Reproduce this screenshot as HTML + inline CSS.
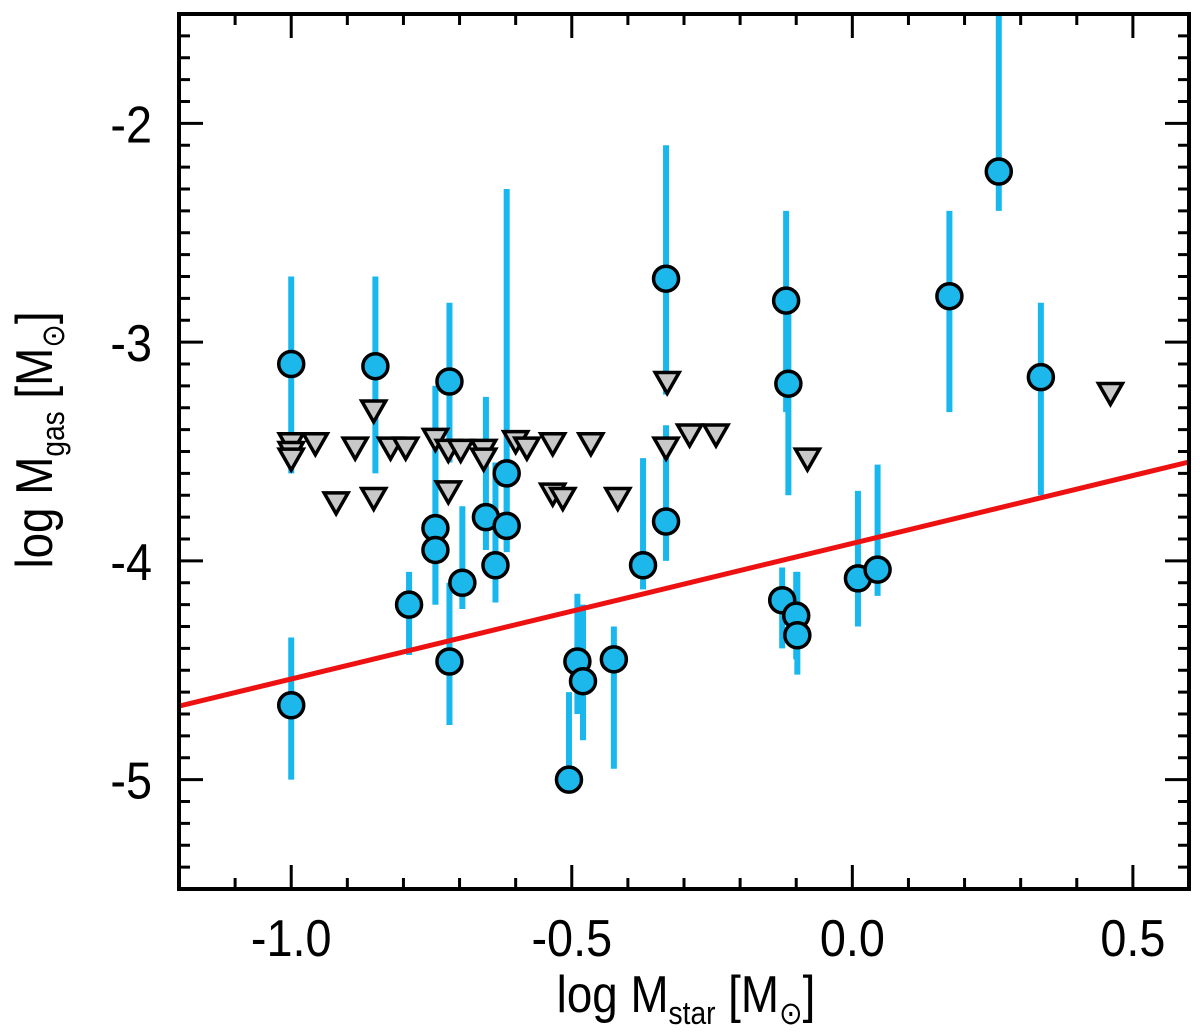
<!DOCTYPE html>
<html><head><meta charset="utf-8"><style>
html,body{margin:0;padding:0;background:#fff;}
svg{display:block;font-family:"Liberation Sans",Arial,sans-serif;}
</style></head><body>
<svg id="chart" width="1200" height="1036" viewBox="0 0 1200 1036" xmlns="http://www.w3.org/2000/svg">
<g id="bars"></g>
<g id="fit"></g>
<g id="tris"></g>
<g id="dots"></g>
<g id="axes"></g>
<g transform="translate(686,1012) scale(0.88,1)"><text x="0" y="0" font-size="52" text-anchor="middle">log M<tspan font-size="32" dy="12">star</tspan><tspan dy="-12"> [M</tspan><tspan font-size="32" dy="12">⊙</tspan><tspan dy="-12">]</tspan></text></g>
<g transform="translate(52,440) rotate(-90) scale(0.88,1)"><text x="0" y="0" font-size="52" text-anchor="middle">log M<tspan font-size="32" dy="12">gas</tspan><tspan dy="-12"> [M</tspan><tspan font-size="32" dy="12">⊙</tspan><tspan dy="-12">]</tspan></text></g>
</svg>
<script>
const detX=[-1.0,-1.0,-0.85,-0.718,-0.718,-0.743,-0.743,-0.79,-0.695,-0.653,-0.636,-0.616,-0.616,-0.373,-0.332,-0.332,-0.49,-0.48,-0.505,-0.425,-0.118,-0.114,-0.125,-0.10,-0.098,0.01,0.045,0.173,0.261,0.336];
const detY=[-3.10,-4.66,-3.11,-3.18,-4.46,-3.85,-3.95,-4.20,-4.10,-3.80,-4.02,-3.84,-3.60,-4.02,-2.71,-3.82,-4.46,-4.55,-5.00,-4.45,-2.81,-3.19,-4.18,-4.25,-4.34,-4.08,-4.04,-2.79,-2.22,-3.16];
const errHi=[-2.70,-4.35,-2.70,-2.82,-4.10,-3.20,-3.20,-4.05,-3.75,-3.25,-3.55,-3.55,-2.30,-3.53,-2.10,-3.38,-4.15,-4.20,-4.60,-4.30,-2.40,-2.86,-4.03,-4.05,-4.05,-3.68,-3.56,-2.40,-1.50,-2.82];
const errLo=[-3.60,-5.00,-3.60,-3.55,-4.75,-4.20,-4.20,-4.43,-4.22,-3.95,-4.19,-3.95,-3.96,-4.13,-3.24,-4.00,-4.70,-4.82,-5.00,-4.95,-3.32,-3.70,-4.40,-4.45,-4.52,-4.30,-4.16,-3.32,-2.40,-3.70];
const limX=[-1.0,-1.0,-1.0,-0.957,-0.886,-0.92,-0.853,-0.853,-0.823,-0.796,-0.743,-0.72,-0.698,-0.72,-0.657,-0.657,-0.60,-0.58,-0.534,-0.466,-0.534,-0.516,-0.418,-0.332,-0.33,-0.29,-0.243,-0.08,0.46];
const limY=[-3.46,-3.50,-3.53,-3.46,-3.48,-3.73,-3.31,-3.71,-3.48,-3.48,-3.44,-3.49,-3.49,-3.68,-3.49,-3.53,-3.45,-3.48,-3.46,-3.46,-3.69,-3.71,-3.71,-3.48,-3.18,-3.42,-3.42,-3.53,-3.23];
const fitSlope=0.62, fitIntercept=-3.92;
const xTicks=[-1.0,-0.5,0.0,0.5], xTickLabels=["-1.0","-0.5","0.0","0.5"];
const yTicks=[-2,-3,-4,-5], yTickLabels=["-2","-3","-4","-5"];
const X0=-1.2,X1=0.6,Y0=-5.5,Y1=-1.5;
const L=179,R=1189,T=14,B=889;
const sx=v=>L+(v-X0)/(X1-X0)*(R-L);
const sy=v=>B-(v-Y0)/(Y1-Y0)*(B-T);
const NS="http://www.w3.org/2000/svg";
function mk(tag,parent,attrs){const e=document.createElementNS(NS,tag);for(const k in attrs)e.setAttribute(k,attrs[k]);parent.appendChild(e);return e;}
const clip=v=>Math.max(T,Math.min(B,v));
const gb=document.getElementById('bars'),gd=document.getElementById('dots'),gt=document.getElementById('tris'),gf=document.getElementById('fit'),ga=document.getElementById('axes');
for(let i=0;i<detX.length;i++){
  const l=mk('line',gb,{x1:sx(detX[i]),x2:sx(detX[i]),y1:clip(sy(errHi[i])),y2:clip(sy(errLo[i])),stroke:'#18b7ee','stroke-width':6});
  
  
}
for(let i=0;i<limX.length;i++){
  const cx=sx(limX[i]),cy=sy(limY[i]);
  const p=mk('polygon',gt,{points:`${cx-12},${cy-9} ${cx+12},${cy-9} ${cx},${cy+12}`,fill:'#c8c8c8',stroke:'#000','stroke-width':3.5,'stroke-linejoin':'miter'});
  
  
}
{const l=mk('line',gf,{x1:sx(X0),y1:sy(fitIntercept+fitSlope*X0),x2:sx(X1),y2:sy(fitIntercept+fitSlope*X1),stroke:'#ee1111','stroke-width':5});

}
for(let i=0;i<detX.length;i++){
  const c=mk('circle',gd,{cx:sx(detX[i]),cy:sy(detY[i]),r:12.5,fill:'#1cb8ec',stroke:'#000','stroke-width':3.5});
  
  
}
mk('rect',ga,{x:L,y:T,width:R-L,height:B-T,fill:'none',stroke:'#000','stroke-width':4});
for(let k=-12;k<=6;k++){const v=k/10,x=sx(v);const maj=(k%5===0);const len=maj?24:11;
  mk('line',ga,{x1:x,x2:x,y1:B,y2:B-len,stroke:'#000','stroke-width':3});
  mk('line',ga,{x1:x,x2:x,y1:T,y2:T+len,stroke:'#000','stroke-width':3});}
for(let k=-55;k<=-15;k++){const v=k/10,y=sy(v);const maj=(k%10===0);const len=maj?24:11;
  mk('line',ga,{x1:L,x2:L+len,y1:y,y2:y,stroke:'#000','stroke-width':3});
  mk('line',ga,{x1:R,x2:R-len,y1:y,y2:y,stroke:'#000','stroke-width':3});}
xTicks.forEach((v,i)=>{const g=mk('g',ga,{transform:`translate(${sx(v)},956) scale(0.9,1)`});
  const t=mk('text',g,{x:0,y:0,'font-size':52,'text-anchor':'middle'});t.textContent=xTickLabels[i];
  
  });
yTicks.forEach((v,i)=>{const g=mk('g',ga,{transform:`translate(152,${sy(v)+19}) scale(0.9,1)`});
  const t=mk('text',g,{x:0,y:0,'font-size':52,'text-anchor':'end'});t.textContent=yTickLabels[i];
  
  });
</script>
</body></html>
